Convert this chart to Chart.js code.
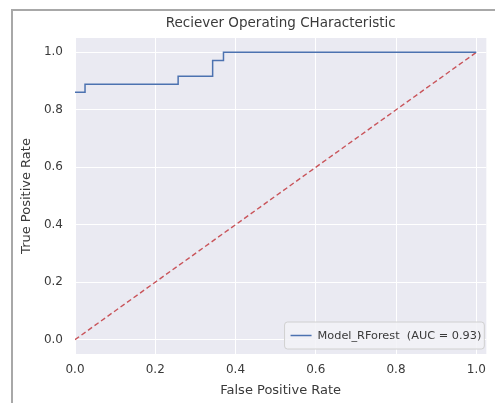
<!doctype html>
<html lang="en">
<head>
    <meta charset="UTF-8">
    <title>ROC</title>
    <style>
        html, body { margin: 0; padding: 0; background: #fff; overflow: hidden; }
        #myChart { display: block; }
    </style>
</head>
<body>
<canvas id="myChart" width="495" height="403"></canvas>
<script src="https://cdn.jsdelivr.net/npm/chart.js"></script>
<script>
    // ROC 곡선 값
    var fpr = [0.0, 0.025, 0.025, 0.257, 0.257, 0.343, 0.343, 0.37, 0.37, 1.0];
    var tpr = [0.861, 0.861, 0.889, 0.889, 0.917, 0.917, 0.972, 0.972, 1.0, 1.0];
    var diagX = [0, 1];
    var diagY = [0, 1];
    var xTicks = [0, 0.2, 0.4, 0.6, 0.8, 1.0];
    var yTicks = [0, 0.2, 0.4, 0.6, 0.8, 1.0];
    var rocLabel = 'Model_RForest  (AUC = 0.93)';
    var titleText = 'Reciever Operating CHaracteristic';

    var font = "'DejaVu Sans', sans-serif";
    var textColor = '#3a3a3a';

    function pts(xs, ys) {
        return xs.map(function (x, i) { return {x: x, y: ys[i]}; });
    }

    // 테두리, 플롯 배경, 제목 (플롯 영역 가운데)
    var bgPlugin = {
        id: 'bg',
        beforeDraw: function (chart) {
            var a = chart.chartArea, ctx = chart.ctx;
            ctx.save();
            ctx.strokeStyle = '#a8a8a8';
            ctx.lineWidth = 2;
            ctx.beginPath();
            ctx.moveTo(12, chart.height);
            ctx.lineTo(12, 10);
            ctx.lineTo(chart.width, 10);
            ctx.stroke();
            ctx.fillStyle = '#eaeaf2';
            ctx.fillRect(a.left, a.top, a.right - a.left, a.bottom - a.top);
            ctx.font = '13.5px ' + font;
            ctx.fillStyle = textColor;
            ctx.textAlign = 'center';
            ctx.textBaseline = 'middle';
            ctx.fillText(titleText, (a.left + a.right) / 2, 23);
            ctx.restore();
        }
    };

    // 오른쪽 아래 범례
    var legendPlugin = {
        id: 'innerLegend',
        afterDraw: function (chart) {
            var a = chart.chartArea, ctx = chart.ctx;
            ctx.save();
            ctx.font = '11.3px ' + font;
            var tw = ctx.measureText(rocLabel).width;
            var w = tw + 36, h = 27;
            var x = a.right - 2 - w, y = a.bottom - 5 - h;
            ctx.beginPath();
            if (ctx.roundRect) ctx.roundRect(x, y, w, h, 3); else ctx.rect(x, y, w, h);
            ctx.fillStyle = 'rgba(242,242,247,0.85)';
            ctx.fill();
            ctx.strokeStyle = '#d0d0d0';
            ctx.lineWidth = 1;
            ctx.stroke();
            ctx.beginPath();
            ctx.moveTo(x + 6, y + h / 2);
            ctx.lineTo(x + 27, y + h / 2);
            ctx.strokeStyle = '#4c72b0';
            ctx.lineWidth = 1.5;
            ctx.stroke();
            ctx.fillStyle = textColor;
            ctx.textBaseline = 'middle';
            ctx.fillText(rocLabel, x + 33, y + h / 2 + 1);
            ctx.restore();
        }
    };

    var ctx = document.getElementById('myChart').getContext('2d');
    var chart = new Chart(ctx, {
        type: 'line',
        data: {
            datasets: [{
                label: rocLabel,
                data: pts(fpr, tpr),
                borderColor: '#4c72b0',
                borderWidth: 1.5,
                pointRadius: 0,
                fill: false,
                tension: 0
            }, {
                label: 'diag',
                data: pts(diagX, diagY),
                borderColor: '#c9545a',
                borderWidth: 1.4,
                borderDash: [5, 3],
                pointRadius: 0,
                fill: false
            }]
        },
        options: {
            responsive: false,
            animation: false,
            layout: { padding: { left: 0, right: 7, top: 38, bottom: 0 } },
            plugins: {
                legend: { display: false },
                tooltip: { enabled: false },
                title: { display: false }
            },
            scales: {
                x: {
                    type: 'linear',
                    min: 0,
                    max: 1.025,
                    afterBuildTicks: function (s) { s.ticks = xTicks.map(function (v) { return {value: v}; }); },
                    afterFit: function (s) { s.height = 49; },
                    grid: { color: '#ffffff', lineWidth: 1, drawTicks: false },
                    border: { display: false },
                    ticks: {
                        color: textColor,
                        font: { family: font, size: 12 },
                        padding: 9,
                        maxRotation: 0,
                        callback: function (v) { return v.toFixed(1); }
                    },
                    title: {
                        display: true,
                        text: 'False Positive Rate',
                        color: textColor,
                        font: { family: font, size: 13 },
                        padding: { top: 0, bottom: 5 }
                    }
                },
                y: {
                    type: 'linear',
                    min: -0.05,
                    max: 1.05,
                    afterBuildTicks: function (s) { s.ticks = yTicks.map(function (v) { return {value: v}; }); },
                    afterFit: function (s) { s.width = 75; },
                    grid: { color: '#ffffff', lineWidth: 1, drawTicks: false },
                    border: { display: false },
                    ticks: {
                        color: textColor,
                        font: { family: font, size: 12 },
                        padding: 12,
                        callback: function (v) { return v.toFixed(1); }
                    },
                    title: {
                        display: true,
                        text: 'True Positive Rate',
                        color: textColor,
                        font: { family: font, size: 13 },
                        padding: { top: 19, bottom: 0 }
                    }
                }
            }
        },
        plugins: [bgPlugin, legendPlugin]
    });
</script>
</body>
</html>
